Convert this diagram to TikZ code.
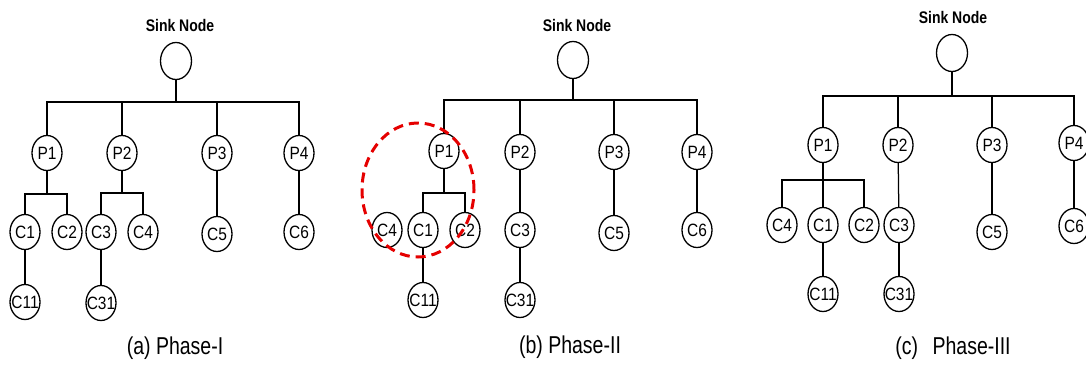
\documentclass[tikz,border=0pt]{standalone}
\usepackage{fontspec}
\setmainfont{Liberation Sans}
\usetikzlibrary{shapes.geometric}
\newcommand{\ys}[2]{\scalebox{1}[#1]{#2}}
\newcommand{\lb}[1]{\makebox[0pt]{\ys{1.15}{#1}}}
\begin{document}
\begin{tikzpicture}[x=1pt,y=-1pt,
  nd/.style={ellipse,draw,line width=1.3pt,minimum width=30pt,minimum height=35pt,inner sep=0pt,font=\fontsize{15.5}{15.5}\selectfont},
  sk/.style={ellipse,draw,line width=1.3pt,minimum width=31pt,minimum height=37pt,inner sep=0pt},
  ttl/.style={font=\bfseries\fontsize{14}{14}\selectfont,inner sep=0pt},
  capt/.style={font=\fontsize{19.5}{20}\selectfont,inner sep=0pt},
  ln/.style={line width=1.25pt},
  hl/.style={ellipse,draw=red!90!black,line width=3pt,dash pattern=on 10pt off 6pt,minimum width=112pt,minimum height=134pt,inner sep=0pt}]
\useasboundingbox (0,0) rectangle (1086,367);

% ---------------- Panel (a)
\node[ttl] (aT) at (180,25) {\ys{1.2}{Sink Node}};
\node[sk] (aS) at (176,61) {};
\node[nd] (aP1) at (47,153) {\lb{P1}};
\node[nd] (aP2) at (122,153) {\lb{P2}};
\node[nd] (aP3) at (217,153) {\lb{P3}};
\node[nd] (aP4) at (299,153) {\lb{P4}};
\node[nd] (aC1) at (25,232) {\lb{C1}};
\node[nd] (aC2) at (67,232) {\lb{C2}};
\node[nd] (aC3) at (101,232) {\lb{C3}};
\node[nd] (aC4) at (143,232) {\lb{C4}};
\node[nd] (aC5) at (217,234) {\lb{C5}};
\node[nd] (aC6) at (299,232) {\lb{C6}};
\node[nd] (aC11) at (25,302) {\lb{C11}};
\node[nd] (aC31) at (101,303) {\lb{C31}};
\coordinate (aB) at (176,102);
\coordinate (aB1) at (47,194);
\coordinate (aB2) at (122,193);
\draw[ln] (aS) -- (aB);
\foreach \p in {aP1,aP2,aP3,aP4} \draw[ln] (\p.north) |- (aB);
\draw[ln] (aP1) -- (aB1);
\draw[ln] (aC1.north) |- (aB1);
\draw[ln] (aC2.north) |- (aB1);
\draw[ln] (aP2) -- (aB2);
\draw[ln] (aC3.north) |- (aB2);
\draw[ln] (aC4.north) |- (aB2);
\draw[ln] (aP3) -- (aC5);
\draw[ln] (aP4) -- (aC6);
\draw[ln] (aC1) -- (aC11);
\draw[ln] (aC3) -- (aC31);
\node[capt] (aCap) at (175,348) {\ys{1.25}{(a) Phase-I}};

% ---------------- Panel (b)
\node[ttl] (bT) at (577,25) {\ys{1.2}{Sink Node}};
\node[sk] (bS) at (573,60) {};
\node[nd] (bP1) at (444,151) {\lb{P1}};
\node[nd] (bP2) at (520,152) {\lb{P2}};
\node[nd] (bP3) at (614,152) {\lb{P3}};
\node[nd] (bP4) at (697,152) {\lb{P4}};
\node[nd] (bC4) at (387,230) {\lb{C4}};
\node[nd] (bC1) at (423,230) {\lb{C1}};
\node[nd] (bC2) at (465,230) {\lb{C2}};
\node[nd] (bC3) at (520,230) {\lb{C3}};
\node[nd] (bC5) at (614,233) {\lb{C5}};
\node[nd] (bC6) at (697,230) {\lb{C6}};
\node[nd] (bC11) at (423,300) {\lb{C11}};
\node[nd] (bC31) at (520,300) {\lb{C31}};
\coordinate (bB) at (573,100);
\coordinate (bB1) at (444,193);
\draw[ln] (bS) -- (bB);
\foreach \p in {bP1,bP2,bP3,bP4} \draw[ln] (\p.north) |- (bB);
\draw[ln] (bP1) -- (bB1);
\draw[ln] (bC1.north) |- (bB1);
\draw[ln] (bC2.north) |- (bB1);
\draw[ln] (bP2) -- (bC3);
\draw[ln] (bP3) -- (bC5);
\draw[ln] (bP4) -- (bC6);
\draw[ln] (bC1) -- (bC11);
\draw[ln] (bC3) -- (bC31);
\node[hl] (bH) at (418,190) {};
\node[capt] (bCap) at (570,347) {\ys{1.25}{(b) Phase-II}};

% ---------------- Panel (c)
\node[ttl] (cT) at (953,17) {\ys{1.2}{Sink Node}};
\node[sk] (cS) at (952,53) {};
\node[nd] (cP1) at (823,145) {\lb{P1}};
\node[nd] (cP2) at (898,145) {\lb{P2}};
\node[nd] (cP3) at (992,145) {\lb{P3}};
\node[nd] (cP4) at (1074,143) {\lb{P4}};
\node[nd] (cC4) at (782,225) {\lb{C4}};
\node[nd] (cC1) at (823,225) {\lb{C1}};
\node[nd] (cC2) at (864,225) {\lb{C2}};
\node[nd] (cC3) at (899,225) {\lb{C3}};
\node[nd] (cC5) at (992,232) {\lb{C5}};
\node[nd] (cC6) at (1074,226) {\lb{C6}};
\node[nd] (cC11) at (823,294) {\lb{C11}};
\node[nd] (cC31) at (899,294) {\lb{C31}};
\coordinate (cB) at (952,96);
\coordinate (cB1) at (823,180);
\draw[ln] (cS) -- (cB);
\foreach \p in {cP1,cP2,cP3,cP4} \draw[ln] (\p.north) |- (cB);
\draw[ln] (cP1) -- (cC1);
\draw[ln] (cC4.north) |- (cB1);
\draw[ln] (cC2.north) |- (cB1);
\draw[ln] (cP2) -- (cC3);
\draw[ln] (cP3) -- (cC5);
\draw[ln] (cP4) -- (cC6);
\draw[ln] (cC1) -- (cC11);
\draw[ln] (cC3) -- (cC31);
\node[capt] (cCap) at (953,348) {\ys{1.25}{(c)\hspace{9pt} Phase-III}};
\end{tikzpicture}
\end{document}
